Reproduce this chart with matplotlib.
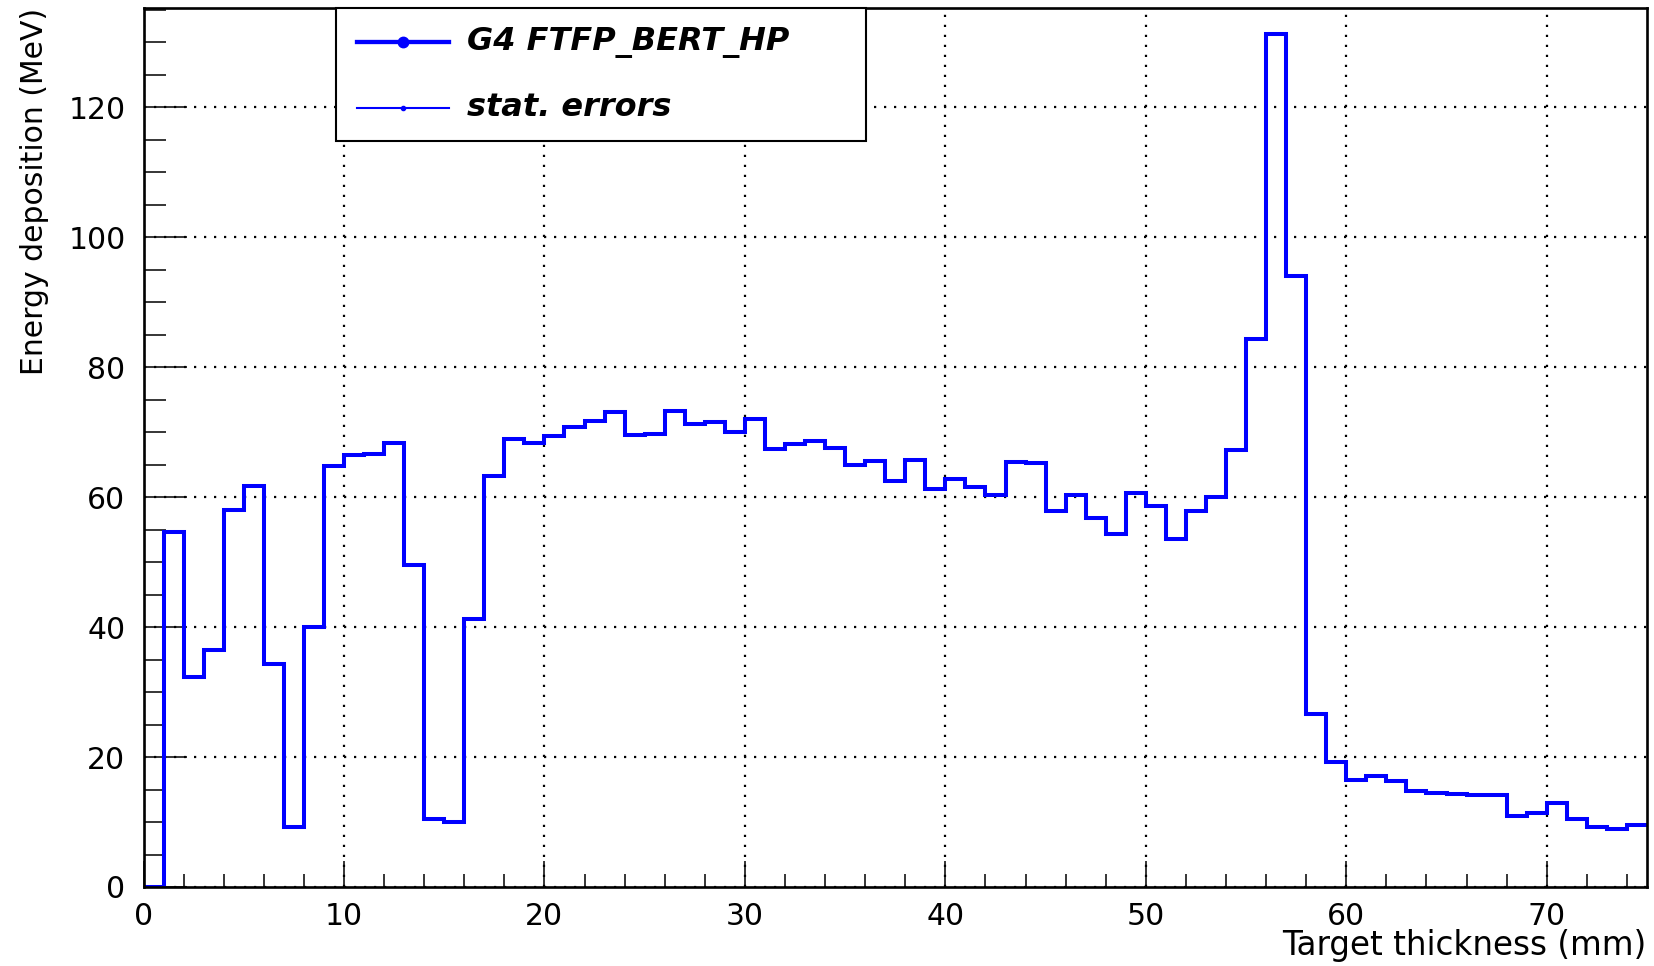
import numpy as np
import matplotlib
matplotlib.use("Agg")
import matplotlib.pyplot as plt
from matplotlib.ticker import MultipleLocator
from matplotlib.patches import Rectangle
from matplotlib.lines import Line2D

# energy deposited per 1 mm slice of the target (MeV)
bin_edges = np.arange(0, 76, 1)
edep = [
    0.0, 54.7, 32.3, 36.5, 58.0, 61.7, 34.4, 9.2, 40.0, 64.8,
    66.5, 66.6, 68.3, 49.5, 10.5, 10.0, 41.3, 63.2, 69.0, 68.3,
    69.4, 70.8, 71.7, 73.1, 69.6, 69.8, 73.2, 71.3, 71.5, 70.0,
    72.1, 67.4, 68.2, 68.6, 67.6, 64.9, 65.5, 62.5, 65.8, 61.3,
    62.8, 61.6, 60.3, 65.4, 65.3, 57.9, 60.3, 56.8, 54.3, 60.6,
    58.7, 53.5, 57.9, 60.0, 67.2, 84.4, 131.3, 94.1, 26.7, 19.2,
    16.5, 17.1, 16.3, 14.7, 14.5, 14.3, 14.1, 14.1, 11.0, 11.4,
    12.9, 10.5, 9.3, 8.9, 9.6,
]
legend_labels = ["G4 FTFP_BERT_HP", "stat. errors"]

W, H = 1654, 966
plt.rcParams['font.family'] = ['DejaVu Sans']
fig = plt.figure(figsize=(W / 100, H / 100), dpi=100)
fig.patch.set_facecolor("white")

# axes box in pixels: x 143.5..1647, y 8..887 (from top)
ax = fig.add_axes([143.5 / W, 1 - 887 / H, (1647 - 143.5) / W, (887 - 8) / H])

ax.stairs(edep, bin_edges, baseline=None, color="#0000ff", linewidth=2.9, zorder=3)

ax.set_xlim(0, 75)
ax.set_ylim(0, 135.3)

ax.xaxis.set_major_locator(MultipleLocator(10))
ax.xaxis.set_minor_locator(MultipleLocator(2))
ax.yaxis.set_major_locator(MultipleLocator(20))
ax.yaxis.set_minor_locator(MultipleLocator(5))

ax.tick_params(axis="both", which="both", direction="in", top=False, right=False,
               width=1.1, color="black")
ax.tick_params(axis="x", which="major", length=19, pad=11, labelsize=21.5)
ax.tick_params(axis="x", which="minor", length=9.5)
ax.tick_params(axis="y", which="major", length=31, pad=13, labelsize=21.5)
ax.tick_params(axis="y", which="minor", length=16)

ax.grid(True, which="major", color="black", linestyle=(0, (1, 3.5)), linewidth=1.6, zorder=1)
ax.set_axisbelow(True)

for side in ["left", "bottom", "top", "right"]:
    ax.spines[side].set_linewidth(1.9)
    ax.spines[side].set_zorder(5)

fig.text(35 / W, 1 - 8 / H, "Energy deposition (MeV)", rotation=90,
         ha="center", va="top", fontsize=21.5)
fig.text(1646 / W, 1 - 955 / H, "Target thickness (mm)",
         ha="right", va="baseline", fontsize=23.5)

# legend box drawn in figure pixels
def px(x, y):
    return x / W, 1 - y / H

x0, y0 = px(336, 141)
x1, y1 = px(866, 8)
box = Rectangle((x0, y0), x1 - x0, y1 - y0, transform=fig.transFigure,
                facecolor="white", edgecolor="black", linewidth=1.5, zorder=10)
fig.add_artist(box)

entry_y = [42, 108]
line_w = [3.1, 1.5]
marker_s = [7.5, 3.0]
for lab, yy, lw, ms in zip(legend_labels, entry_y, line_w, marker_s):
    xa, ya = px(357, yy)
    xb, _ = px(449, yy)
    fig.add_artist(Line2D([xa, xb], [ya, ya], transform=fig.transFigure,
                          color="#0000ff", linewidth=lw, zorder=11))
    fig.add_artist(Line2D([(xa + xb) / 2], [ya], transform=fig.transFigure,
                          color="#0000ff", marker="o", markersize=ms, zorder=12))
    xt, yt = px(467, yy)
    fig.text(xt, yt, lab, ha="left", va="center", fontsize=23,
             fontweight="bold", fontstyle="italic", zorder=12)

fig.savefig("out.png", dpi=100, facecolor="white")
